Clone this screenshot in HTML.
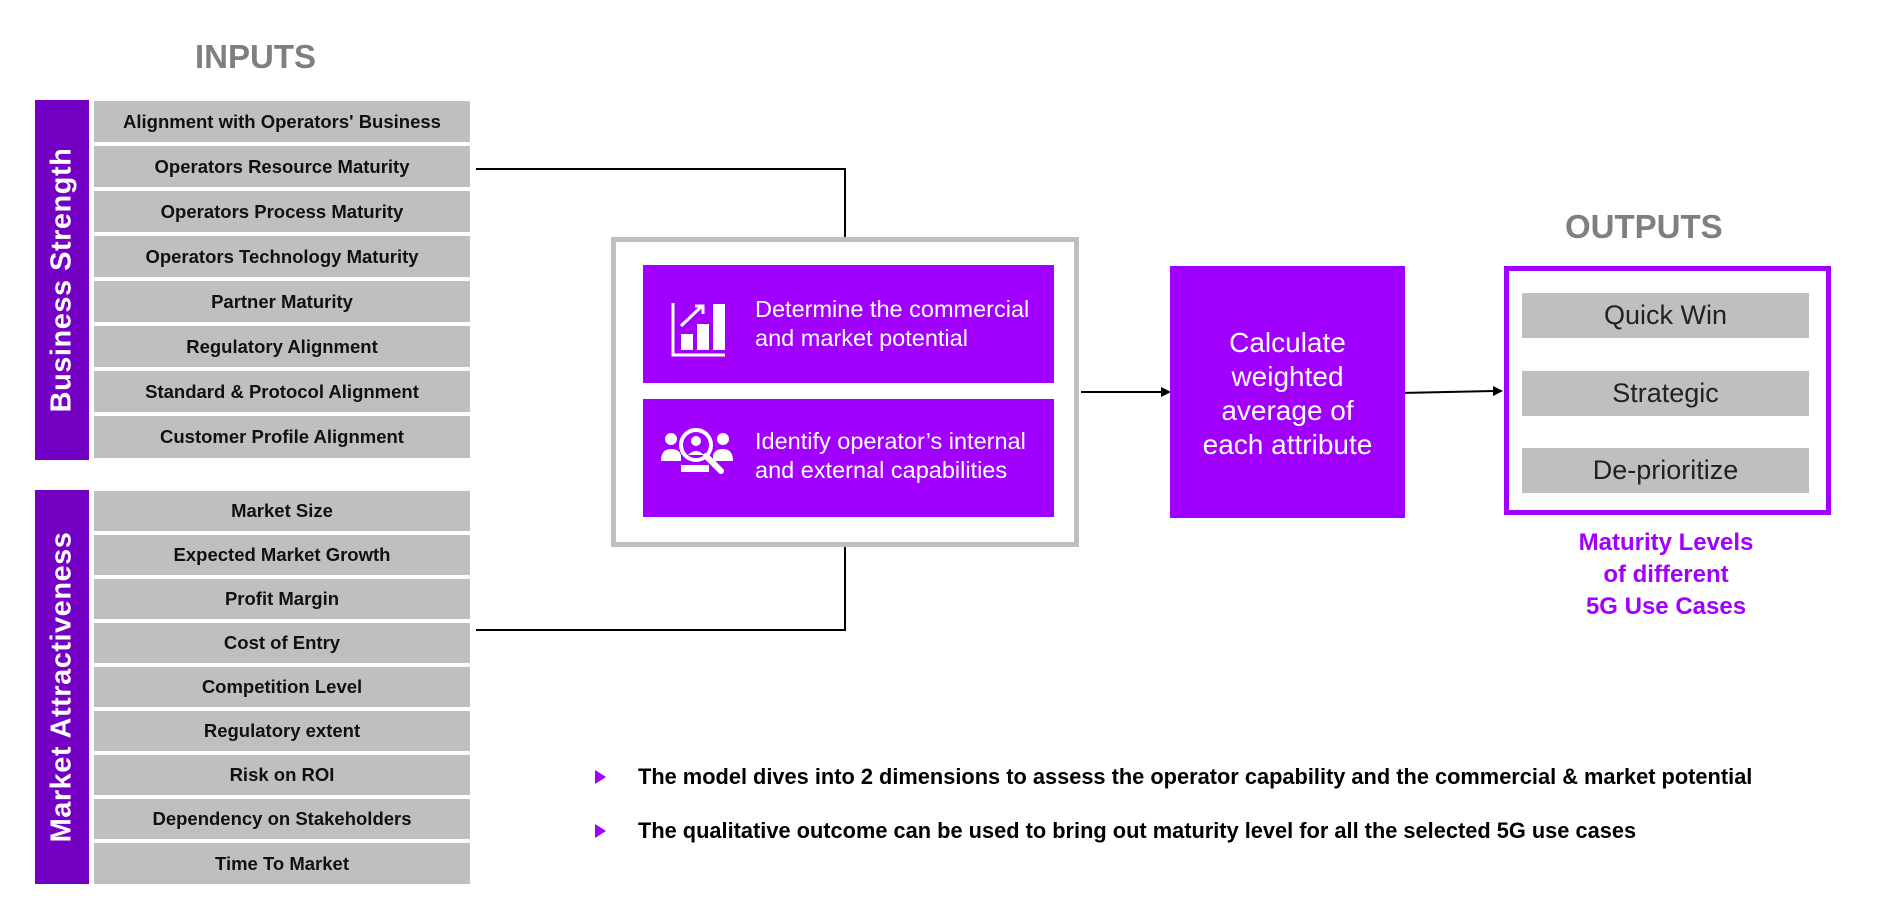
<!DOCTYPE html>
<html><head><meta charset="utf-8"><style>
body{margin:0;width:1903px;height:900px;background:#fff;position:relative;overflow:hidden;font-family:"Liberation Sans",sans-serif}
div{position:absolute;box-sizing:border-box}
.row{left:94px;width:376px;background:#bfbfbf;color:#111;font-weight:bold;font-size:18.5px;display:flex;align-items:center;justify-content:center}
.bar{left:35px;width:54px;background:#7400c4}
.bar span{position:absolute;left:50%;top:50%;transform:translate(-50%,-50%) rotate(-90deg);white-space:nowrap;color:#fff;font-weight:bold;font-size:29px;letter-spacing:0.5px}
.pb{background:#a100ff;color:#fff;font-size:23.5px;line-height:29px}
.out{left:1522px;width:287px;height:45px;background:#bfbfbf;font-size:27px;color:#222;display:flex;align-items:center;justify-content:center}
.bul{left:595px;width:0;height:0;border-left:11px solid #a100ff;border-top:7px solid transparent;border-bottom:7px solid transparent}
.bt{left:638px;font-weight:bold;font-size:21.8px;color:#000;white-space:nowrap}
</style></head><body>
<div style="left:195px;top:38px;font-size:33px;font-weight:bold;color:#7f7f7f">INPUTS</div>
<div class="bar" style="top:100px;height:360px"><span>Business Strength</span></div>
<div class="row" style="top:101px;height:41px">Alignment with Operators' Business</div>
<div class="row" style="top:146px;height:41px">Operators Resource Maturity</div>
<div class="row" style="top:191px;height:41px">Operators Process Maturity</div>
<div class="row" style="top:236px;height:41px">Operators Technology Maturity</div>
<div class="row" style="top:281px;height:41px">Partner Maturity</div>
<div class="row" style="top:326px;height:41px">Regulatory Alignment</div>
<div class="row" style="top:371px;height:41px">Standard &amp; Protocol Alignment</div>
<div class="row" style="top:416px;height:42px">Customer Profile Alignment</div>
<div class="bar" style="top:490px;height:394px"><span>Market Attractiveness</span></div>
<div class="row" style="top:491px;height:40px">Market Size</div>
<div class="row" style="top:535px;height:40px">Expected Market Growth</div>
<div class="row" style="top:579px;height:40px">Profit Margin</div>
<div class="row" style="top:623px;height:40px">Cost of Entry</div>
<div class="row" style="top:667px;height:40px">Competition Level</div>
<div class="row" style="top:711px;height:40px">Regulatory extent</div>
<div class="row" style="top:755px;height:40px">Risk on ROI</div>
<div class="row" style="top:799px;height:40px">Dependency on Stakeholders</div>
<div class="row" style="top:843px;height:41px">Time To Market</div>

<svg style="position:absolute;left:0;top:0" width="1903" height="900">
<polyline points="476,169 845,169 845,237" fill="none" stroke="#000" stroke-width="2"/>
<polyline points="476,630 845,630 845,547" fill="none" stroke="#000" stroke-width="2"/>
<line x1="1081" y1="392" x2="1162" y2="392" stroke="#000" stroke-width="2"/>
<polygon points="1171,392 1161,387 1161,397" fill="#000"/>
<line x1="1400" y1="393" x2="1494" y2="391" stroke="#000" stroke-width="2"/>
<polygon points="1503,391 1493,386 1493,396" fill="#000"/>
</svg>

<div style="left:611px;top:237px;width:468px;height:310px;border:5px solid #bfbfbf"></div>
<div class="pb" style="left:643px;top:265px;width:411px;height:118px">
<svg style="position:absolute;left:28px;top:36px" width="56" height="56" viewBox="0 0 56 56"><path d="M2 2V54H54" fill="none" stroke="#fff" stroke-width="3"/><rect x="10" y="33" width="12" height="16" fill="#fff"/><rect x="26" y="23" width="12" height="26" fill="#fff"/><rect x="42" y="3" width="12" height="46" fill="#fff"/><path d="M10 25L31 5" stroke="#fff" stroke-width="3"/><path d="M24 5H32V13" fill="none" stroke="#fff" stroke-width="3"/></svg>
<div style="left:112px;top:30px">Determine the commercial<br>and market potential</div></div>
<div class="pb" style="left:643px;top:399px;width:411px;height:118px">
<svg style="position:absolute;left:18px;top:26px" width="74" height="56" viewBox="0 0 74 56"><circle cx="10" cy="14" r="6" fill="#fff"/><circle cx="62" cy="14" r="6" fill="#fff"/><path d="M0 36Q0 24 10 24Q18 24 20 30V36Z" fill="#fff"/><path d="M72 36Q72 24 62 24Q54 24 52 30V36Z" fill="#fff"/><circle cx="35" cy="20" r="15" fill="none" stroke="#fff" stroke-width="4"/><circle cx="35" cy="16" r="5" fill="#fff"/><path d="M27 30Q35 22 43 30Z" fill="#fff"/><path d="M45 31L60 46" stroke="#fff" stroke-width="6" stroke-linecap="round"/><rect x="20" y="40" width="28" height="7" fill="#fff"/></svg>
<div style="left:112px;top:28px">Identify operator’s internal<br>and external capabilities</div></div>

<div style="left:1170px;top:266px;width:235px;height:252px;background:#a100ff;color:#fff;font-size:28px;line-height:34px;text-align:center;padding-top:60px">Calculate<br>weighted<br>average of<br>each attribute</div>

<div style="left:1565px;top:208px;font-size:33px;font-weight:bold;color:#7f7f7f">OUTPUTS</div>
<div style="left:1504px;top:266px;width:327px;height:249px;border:5px solid #a100ff"></div>
<div class="out" style="top:293px">Quick Win</div>
<div class="out" style="top:371px">Strategic</div>
<div class="out" style="top:448px">De-prioritize</div>
<div style="left:1536px;top:527px;width:260px;text-align:center;color:#a100ff;font-weight:bold;font-size:24px;line-height:32px">Maturity Levels<br>of different<br>5G Use Cases</div>

<div class="bul" style="top:770px"></div>
<div class="bt" style="top:764px">The model dives into 2 dimensions to assess the operator capability and the commercial &amp; market potential</div>
<div class="bul" style="top:824px"></div>
<div class="bt" style="top:818px">The qualitative outcome can be used to bring out maturity level for all the selected 5G use cases</div>
</body></html>
